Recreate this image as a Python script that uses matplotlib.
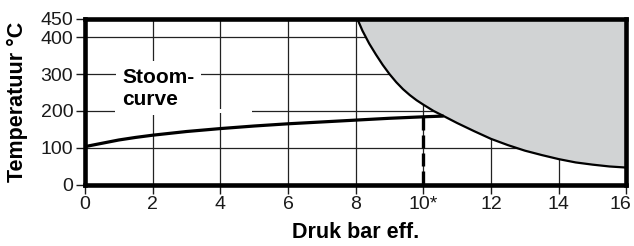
#! /usr/bin/env python
# -*- coding: utf-8 -*-

import matplotlib
matplotlib.use("Agg")
import matplotlib.pyplot as plt
from matplotlib.patches import Rectangle
from matplotlib.transforms import ScaledTranslation

# stoomcurve (druk bar eff. -> temperatuur)
steam_p = [0, 0.5, 1, 1.5, 2, 3, 4, 5, 6, 7, 8, 9, 10, 10.6]
steam_t = [103, 112, 121, 128, 134, 144, 152, 159, 165, 170, 175, 180, 184, 186]

# grens van het grijze gebied
bound_p = [8.05, 8.2, 8.4, 8.6, 8.8, 9.0, 9.2, 9.4, 9.6, 9.8, 10.0, 10.3, 10.6,
           11.0, 11.5, 12.0, 12.5, 13.0, 13.5, 14.0, 14.5, 15.0, 15.5, 16.0]
bound_t = [450, 418, 383, 353, 325, 300, 278, 259, 243, 229, 217, 200, 186,
           167, 145, 124, 107, 92, 80, 69, 60, 54, 49, 46]

design_p = 10
design_t = 184

x_ticks = [0, 2, 4, 6, 8, 10, 12, 14, 16]
x_labels = ['0', '2', '4', '6', '8', '10*', '12', '14', '16']
y_ticks = [0, 100, 200, 300, 400, 450]


def main():
    plt.rcParams['font.family'] = ['Liberation Sans', 'DejaVu Sans']

    fig = plt.figure(figsize=(6.34, 2.46), dpi=100)
    ax = fig.add_axes([0.134, 0.25, 0.854, 0.673])

    ax.set_xlim(0, 16)
    ax.set_ylim(0, 450)

    # raster
    for x in x_ticks[1:-1]:
        ax.axvline(x, color='#222222', lw=0.9, zorder=1)
    for y in y_ticks[1:-1]:
        ax.axhline(y, color='#222222', lw=0.9, zorder=1)
    ax.add_patch(Rectangle((0.9, 195), 4.05, 10, fc='white', ec='none', zorder=1.5))

    ax.fill_between(bound_p, bound_t, 450, color='#d1d3d4', lw=0, zorder=2)
    ax.plot(bound_p, bound_t, color='black', lw=1.6, zorder=3)
    ax.plot(steam_p, steam_t, color='black', lw=2.3, zorder=3, solid_capstyle='butt')
    ax.plot([design_p, design_p], [design_t, 0], color='black', lw=2.4,
            linestyle=(0, (3.9, 1.5)), zorder=3)

    ax.text(1.1, 262, 'Stoom-\ncurve', fontsize=15, fontweight='bold', va='center',
            ha='left', zorder=4,
            bbox=dict(boxstyle='square,pad=0.3', fc='white', ec='none'))

    ax.set_xticks(x_ticks)
    ax.set_xticklabels(x_labels)
    ax.set_yticks(y_ticks)
    ax.tick_params(direction='out', length=6.5, width=1, pad=2, labelsize=14,
                   labelcolor='#1a1a1a', colors='#1a1a1a')

    # laatste label iets naar links zodat het binnen het beeld valt
    last = ax.get_xticklabels()[-1]
    last.set_transform(last.get_transform() +
                       ScaledTranslation(-4 / 72.0, 0, fig.dpi_scale_trans))

    for s in ax.spines.values():
        s.set_linewidth(3.3)
        s.set_zorder(5)

    ax.set_xlabel('Druk bar eff.', fontsize=15.5, fontweight='bold', labelpad=6)
    ax.set_ylabel('Temperatuur °C', fontsize=15.5, fontweight='bold', labelpad=9)

    fig.savefig('out.png', dpi=100)


if __name__ == "__main__":
    main()
